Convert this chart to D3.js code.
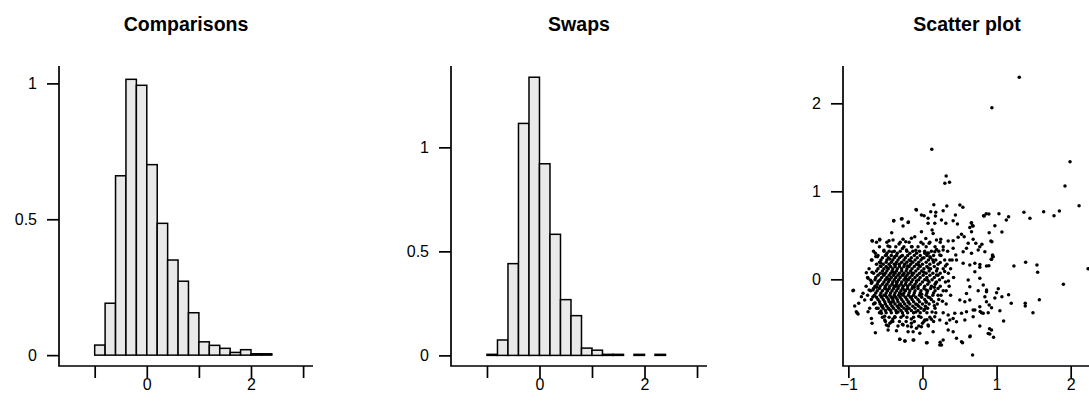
<!DOCTYPE html>
<html><head><meta charset="utf-8">
<script src="https://cdn.jsdelivr.net/npm/d3@7"></script>
<style>
body{margin:0;background:#fff}
svg{display:block}
text{font-family:"Liberation Sans",Arial,Helvetica,sans-serif;fill:#000}
</style>
</head><body>
<svg id="c" width="1089" height="412"></svg>
<script>
// ---------- data ----------
const titles = ["Comparisons", "Swaps", "Scatter plot"];
const histBreaks = [-1.0,-0.8,-0.6,-0.4,-0.2,0.0,0.2,0.4,0.6,0.8,1.0,1.2,1.4,1.6,1.8,2.0,2.2,2.4];
const compDensity = [0.037,0.191,0.660,1.015,0.993,0.701,0.485,0.350,0.272,0.156,0.049,0.036,0.025,0.010,0.020,0.005,0.005];
const swapDensity = [0.005,0.074,0.441,1.115,1.337,0.921,0.582,0.268,0.191,0.035,0.025,0.005,0.005,0.000,0.005,0.000,0.005];
const histXTicks = [-1, 0, 1, 2, 3];
const histXLabels = ["", "0", "", "2", ""];
const compYTicks = [0, 0.5, 1];
const swapYTicks = [0, 0.5, 1];
const scatterXTicks = [-1, 0, 1, 2];
const scatterYTicks = [0, 1, 2];

// individually read scatter points [x, y]
const scatterSparse = [
[1.306,2.295],[0.937,1.951],[0.126,1.477],[0.32,1.174],[0.302,1.091],[0.365,1.102],
[1.991,1.337],[1.923,1.061],[2.113,0.837],[2.234,0.121],[1.901,-0.057],[1.847,0.777],
[1.775,0.723],[1.635,0.769],[1.45,0.693],[1.369,0.761],[1.162,0.712],[1.131,0.674],
[1.072,0.538],[1.032,0.746],[0.977,0.61],[0.896,0.742],[0.86,0.746],[0.824,0.723],
[1.234,0.152],[1.392,0.193],[1.545,0.163],[1.554,0.08],[1.577,-0.231],[1.387,-0.273],
[1.387,-0.303],[1.491,-0.379],[1.198,-0.273],[1.162,-0.174],[1.095,-0.473],[1.045,-0.356],
[1.023,-0.106],[1.072,-0.197],[0.977,-0.212],[0.959,-0.659],[0.905,-0.561],[0.887,-0.617],
[0.676,-0.86],[0.541,-0.72],[0.644,-0.644],[0.257,-0.746],[0.239,-0.716],[0.063,-0.72],
[-0.117,-0.689],[-0.234,-0.701],[-0.306,-0.682],[-0.635,-0.606],[-0.883,-0.379],[-0.932,-0.125],
[-0.914,-0.303],[-0.68,0.439],[-0.577,0.455],[-0.387,0.667],[-0.275,0.689],[-0.189,0.652],
[-0.086,0.792],[0.153,0.848],[0.329,0.833],[0.505,0.845],[0.545,0.818],[0.658,0.64],
[0.676,0.61],[0.802,0.398],[0.937,0.428],[0.946,0.277],[0.775,0.167],[0.896,0.155],
[0.752,0.333],[0.865,-0.121],[0.842,-0.197],[0.779,-0.367],[0.82,-0.386],[0.707,-0.348],
[0.945,0.265],[0.928,0.227],[1.0,-0.152],[0.932,-0.322],
[-0.081,0.788],[-0.284,0.685],[-0.388,0.662],[-0.194,0.647],[-0.262,0.606],[-0.415,0.53],
[-0.676,0.435],[-0.577,0.447],[-0.451,0.439],[-0.397,0.447],[-0.262,0.455],[-0.226,0.428],
[-0.149,0.466],[-0.104,0.484],[-0.316,0.401],[-0.465,0.378],[-0.635,0.295],[-0.608,0.257],
[-0.689,0.219],[-0.564,0.189],[-0.486,0.276],[-0.374,0.257],[-0.216,0.333],[-0.149,0.37],
[0.112,0.768],[0.18,0.761],[0.279,0.78],[-0.014,0.731],[0.022,0.723],[0.175,0.72],
[0.076,0.693],[0.445,0.731],[0.833,0.72],[0.256,0.674],[0.414,0.666],[0.472,0.628],
[0.315,0.636],[0.076,0.636],[0.166,0.636],[0.662,0.644],[0.684,0.606],[0.639,0.59],
[0.13,0.56],[0.144,0.522],[-0.014,0.541],[0.662,0.541],[0.9,0.53],[0.527,0.511],
[0.563,0.484],[0.482,0.477],[0.247,0.454],[0.347,0.435],[0.414,0.439],[0.189,0.447],
[0.09,0.409],[0.045,0.465],[0.009,0.401],[0.684,0.454],[0.617,0.409],[0.72,0.409],
[0.774,0.371],[0.923,0.435],[0.842,0.314],[0.955,0.257],[0.932,0.227],[0.594,0.352],
[0.549,0.314],[0.662,0.295],[0.414,0.352],[0.45,0.276],[0.369,0.219],[0.459,0.219],
[0.549,0.182],[0.639,0.163],[0.707,0.182],[0.774,0.136],[0.864,0.151],[0.279,0.333],
[0.234,0.276],[0.166,0.314],[0.099,0.257],[0.031,0.295],
[0.707,0.087],[0.774,0.011],[0.617,-0.008],[0.82,-0.065],[0.639,-0.084],[0.752,-0.13],
[0.864,-0.14],[0.594,-0.16],[0.504,-0.235],[0.572,-0.254],[0.639,-0.235],[0.864,-0.254],
[0.9,-0.292],[0.774,-0.311],[0.684,-0.349],[0.594,-0.368],[0.527,-0.387],[0.797,-0.379],
[0.887,-0.379],[0.436,-0.387],[0.347,-0.406],[0.414,-0.444],[0.369,-0.463],[0.459,-0.482],
[0.572,-0.463],[0.684,-0.425],[0.324,-0.5],[0.234,-0.463],[0.166,-0.425],[0.121,-0.455],
[0.031,-0.463],[-0.014,-0.538],[0.076,-0.519],[0.774,-0.531],[0.932,-0.576],[0.909,-0.622],
[0.414,-0.595],[0.347,-0.576],[0.144,-0.595],[0.459,-0.671],[0.279,-0.69],[0.234,-0.747],
[0.527,-0.709],[0.639,-0.652],[0.054,-0.72],
[-0.937,-0.129],[-0.824,-0.197],[-0.86,-0.273],[-0.892,-0.368],[-0.869,-0.394],[-0.802,-0.159],
[-0.779,-0.235],[-0.757,0.075],[-0.734,0.011],[-0.712,-0.33],[-0.734,-0.368],[-0.689,-0.444],
[-0.68,-0.5],[-0.509,-0.463],[-0.487,-0.519],[-0.464,-0.576],[-0.419,-0.482],[-0.351,-0.584],
[-0.306,-0.682],[-0.239,-0.701],[-0.126,-0.69],[-0.194,-0.595],[-0.126,-0.595],[-0.081,-0.557],
[-0.036,-0.614],[-0.149,-0.5],[-0.261,-0.519],[-0.374,-0.425],[-0.554,-0.387],[-0.599,-0.33],
[-0.644,-0.273],[-0.667,-0.121],[-0.689,-0.046]
];

// dense core, estimated row by row: [y, [x values]]
const clusterRows = [
[0.42,[-0.62,-0.48,-0.30,-0.18,-0.02,0.10,0.24]],
[0.37,[-0.58,-0.44,-0.36,-0.25,-0.14,-0.06,0.05,0.17,0.28]],
[0.32,[-0.66,-0.52,-0.45,-0.38,-0.30,-0.21,-0.13,-0.04,0.03,0.12,0.22,0.34]],
[0.295,[-0.48,-0.34,-0.17,-0.08,0.08]],
[0.27,[-0.60,-0.50,-0.42,-0.35,-0.27,-0.20,-0.11,-0.03,0.06,0.15,0.25]],
[0.245,[-0.54,-0.46,-0.38,-0.31,-0.23,-0.15,-0.07,0.02,0.11]],
[0.22,[-0.68,-0.56,-0.48,-0.40,-0.33,-0.25,-0.18,-0.10,-0.02,0.08,0.18,0.30,0.40]],
[0.195,[-0.58,-0.49,-0.42,-0.35,-0.28,-0.21,-0.13,-0.05,0.05,0.15]],
[0.17,[-0.62,-0.53,-0.45,-0.38,-0.31,-0.24,-0.16,-0.08,0.00,0.10,0.21,0.33]],
[0.145,[-0.56,-0.49,-0.43,-0.37,-0.31,-0.25,-0.18,-0.11,-0.03,0.06,0.16]],
[0.12,[-0.72,-0.60,-0.52,-0.46,-0.40,-0.34,-0.28,-0.21,-0.14,-0.06,0.02,0.11,0.20,0.28,0.38]],
[0.095,[-0.62,-0.54,-0.48,-0.41,-0.35,-0.28,-0.22,-0.16,-0.09,-0.01,0.09,0.19]],
[0.07,[-0.66,-0.57,-0.50,-0.43,-0.37,-0.31,-0.25,-0.19,-0.12,-0.04,0.05,0.14,0.24,0.35]],
[0.045,[-0.60,-0.52,-0.45,-0.39,-0.33,-0.27,-0.21,-0.14,-0.07,0.01,0.10,0.21]],
[0.02,[-0.74,-0.63,-0.55,-0.48,-0.42,-0.36,-0.30,-0.23,-0.17,-0.10,-0.03,0.06,0.16,0.27,0.42]],
[-0.005,[-0.64,-0.57,-0.50,-0.44,-0.38,-0.32,-0.25,-0.19,-0.13,-0.05,0.03,0.13,0.23]],
[-0.03,[-0.68,-0.60,-0.52,-0.46,-0.40,-0.34,-0.28,-0.22,-0.15,-0.08,0.00,0.09,0.19,0.31]],
[-0.055,[-0.61,-0.54,-0.48,-0.41,-0.35,-0.29,-0.23,-0.17,-0.10,-0.03,0.07,0.17]],
[-0.08,[-0.76,-0.64,-0.57,-0.50,-0.44,-0.38,-0.32,-0.26,-0.20,-0.13,-0.06,0.03,0.12,0.24,0.36]],
[-0.105,[-0.66,-0.58,-0.51,-0.45,-0.39,-0.33,-0.27,-0.20,-0.14,-0.06,0.02,0.11,0.21]],
[-0.13,[-0.70,-0.61,-0.54,-0.47,-0.41,-0.35,-0.29,-0.23,-0.17,-0.10,-0.02,0.07,0.17,0.28]],
[-0.155,[-0.63,-0.56,-0.49,-0.43,-0.37,-0.31,-0.25,-0.18,-0.11,-0.03,0.06,0.15]],
[-0.18,[-0.74,-0.65,-0.57,-0.50,-0.44,-0.38,-0.32,-0.26,-0.19,-0.12,-0.04,0.05,0.14,0.25,0.38]],
[-0.205,[-0.62,-0.55,-0.48,-0.42,-0.36,-0.30,-0.23,-0.16,-0.09,-0.01,0.08]],
[-0.23,[-0.69,-0.60,-0.53,-0.46,-0.40,-0.34,-0.28,-0.21,-0.14,-0.06,0.03,0.12,0.22]],
[-0.255,[-0.58,-0.51,-0.45,-0.39,-0.33,-0.26,-0.19,-0.12,-0.04,0.05,0.15]],
[-0.28,[-0.66,-0.57,-0.50,-0.43,-0.37,-0.30,-0.24,-0.17,-0.09,0.00,0.09,0.20,0.32]],
[-0.305,[-0.55,-0.48,-0.41,-0.34,-0.28,-0.21,-0.13,-0.05,0.04]],
[-0.33,[-0.62,-0.53,-0.46,-0.39,-0.32,-0.25,-0.18,-0.10,-0.02,0.07,0.17]],
[-0.355,[-0.50,-0.43,-0.36,-0.29,-0.22,-0.15,-0.06,0.02]],
[-0.38,[-0.58,-0.49,-0.42,-0.35,-0.27,-0.20,-0.12,-0.03,0.06,0.18,0.28]],
[-0.43,[-0.54,-0.45,-0.37,-0.29,-0.21,-0.12,-0.02,0.10]],
[-0.48,[-0.50,-0.40,-0.31,-0.22,-0.11,0.02,0.15]],
[-0.53,[-0.46,-0.33,-0.20,-0.05,0.08]]
];

// extra estimated points filling the darkest part of the cloud [x, y]
const coreExtra = [
[-0.52,0.33],[-0.41,0.31],[-0.27,0.35],[-0.09,0.33],[0.07,0.30],[0.19,0.34],
[-0.63,0.26],[-0.44,0.23],[-0.29,0.26],[-0.16,0.21],[0.00,0.24],[0.14,0.22],[0.24,0.19],
[-0.57,0.15],[-0.47,0.13],[-0.36,0.17],[-0.20,0.15],[-0.05,0.16],[0.08,0.13],[0.31,0.15],
[-0.68,0.08],[-0.53,0.06],[-0.39,0.08],[-0.26,0.05],[-0.14,0.07],[0.02,0.08],[0.19,0.05],[0.30,0.09],
[-0.70,-0.01],[-0.59,-0.02],[-0.46,0.00],[-0.35,-0.03],[-0.21,0.00],[-0.08,-0.02],[0.07,-0.01],[0.18,-0.04],[0.35,-0.02],
[-0.72,-0.12],[-0.62,-0.09],[-0.49,-0.11],[-0.36,-0.08],[-0.24,-0.12],[-0.11,-0.09],[0.05,-0.12],[0.16,-0.09],[0.32,-0.13],
[-0.67,-0.20],[-0.52,-0.18],[-0.40,-0.21],[-0.28,-0.17],[-0.15,-0.20],[-0.01,-0.17],[0.10,-0.21],[0.21,-0.18],
[-0.64,-0.27],[-0.54,-0.30],[-0.42,-0.26],[-0.31,-0.29],[-0.19,-0.26],[-0.07,-0.29],[0.05,-0.26],[0.16,-0.30],[0.27,-0.25],
[-0.56,-0.36],[-0.45,-0.34],[-0.33,-0.37],[-0.21,-0.34],[-0.09,-0.37],[0.03,-0.34],[0.13,-0.37],
[-0.51,-0.42],[-0.40,-0.45],[-0.26,-0.41],[-0.15,-0.45],[-0.05,-0.42],[0.06,-0.46],
[-0.44,-0.50],[-0.27,-0.51],[-0.15,-0.54],[0.00,-0.50]
];

// ---------- drawing ----------
const svg = d3.select("#c");
svg.append("rect").attr("width",1089).attr("height",412).attr("fill","#fff");

const AX_W = 1.7, TICK = 12, LABEL_GAP = 22, TICK_FS = 16, TITLE_FS = 19.5;
const plotTop = 66, plotBottom = 366;
const FONT = '"Liberation Sans",Arial,Helvetica,sans-serif';

function frame(x, y, title) {
  const g = svg.append("g");
  const [x0, x1] = x.range(), [y0, y1] = y.range();
  g.append("path")
    .attr("d", `M${x0},${y1}V${y0}H${x1}`)
    .attr("fill","none").attr("stroke","#000").attr("stroke-width",AX_W);
  g.append("text")
    .attr("x",(x0+x1)/2).attr("y",31)
    .attr("text-anchor","middle")
    .attr("font-weight","bold").attr("font-size",TITLE_FS)
    .text(title);
  return g;
}

function axes(g, x, y, xt, xl, yt, yl) {
  const [x0] = x.range(), [y0] = y.range();
  const xa = d3.axisBottom(x).tickValues(xt).tickSize(TICK).tickSizeOuter(0)
    .tickFormat((d,i) => xl[i]).tickPadding(1);
  const gx = g.append("g").attr("transform",`translate(0,${y0})`).call(xa);
  gx.select(".domain").remove();
  gx.selectAll(".tick line").attr("stroke","#000").attr("stroke-width",AX_W);
  gx.selectAll(".tick text").attr("font-size",TICK_FS).attr("fill","#000")
    .attr("font-family",FONT).attr("dy","0.71em");

  const ya = d3.axisLeft(y).tickValues(yt).tickSize(TICK).tickSizeOuter(0)
    .tickFormat((d,i) => yl[i]).tickPadding(LABEL_GAP - TICK);
  const gy = g.append("g").attr("transform",`translate(${x0},0)`).call(ya);
  gy.select(".domain").remove();
  gy.selectAll(".tick line").attr("stroke","#000").attr("stroke-width",AX_W);
  gy.selectAll(".tick text").attr("font-size",TICK_FS).attr("fill","#000")
    .attr("font-family",FONT);
}

function histogram(xRange, yDomain, density, yTicks, title) {
  const x = d3.scaleLinear().domain([-1.685, 3.19]).range(xRange);
  const y = d3.scaleLinear().domain(yDomain).range([plotBottom, plotTop]);
  const g = frame(x, y, title);
  const bins = density.map((d,i) => ({x0: histBreaks[i], x1: histBreaks[i+1], d}));
  g.append("g").selectAll("rect").data(bins).join("rect")
    .attr("x", b => x(b.x0)).attr("width", b => x(b.x1) - x(b.x0))
    .attr("y", b => y(b.d)).attr("height", b => y(0) - y(b.d))
    .attr("fill","#e9e9e9").attr("stroke","#000").attr("stroke-width",1.5);
  axes(g, x, y, histXTicks, histXLabels, yTicks, yTicks.map(v => String(v)));
}

histogram([59, 313], [-0.04, 1.064], compDensity, compYTicks, titles[0]);
histogram([451, 707], [-0.051, 1.391], swapDensity, swapYTicks, titles[1]);

// scatter
const sx = d3.scaleLinear().domain([-1.072, 2.274]).range([843, 1091]);
const sy = d3.scaleLinear().domain([-0.985, 2.424]).range([plotBottom, plotTop]);
const g3 = frame(sx, sy, titles[2]);
const clusterPts = clusterRows.flatMap(([yv, xs]) => xs.map(xv => [xv, yv]));
const allPts = scatterSparse.concat(clusterPts, coreExtra);
g3.append("g").selectAll("circle").data(allPts).join("circle")
  .attr("cx", d => sx(d[0])).attr("cy", d => sy(d[1])).attr("r", 1.75)
  .attr("fill","#000");
axes(g3, sx, sy, scatterXTicks, scatterXTicks.map(v => v < 0 ? "\u2212" + Math.abs(v) : String(v)),
     scatterYTicks, scatterYTicks.map(String));
</script>
</body></html>
